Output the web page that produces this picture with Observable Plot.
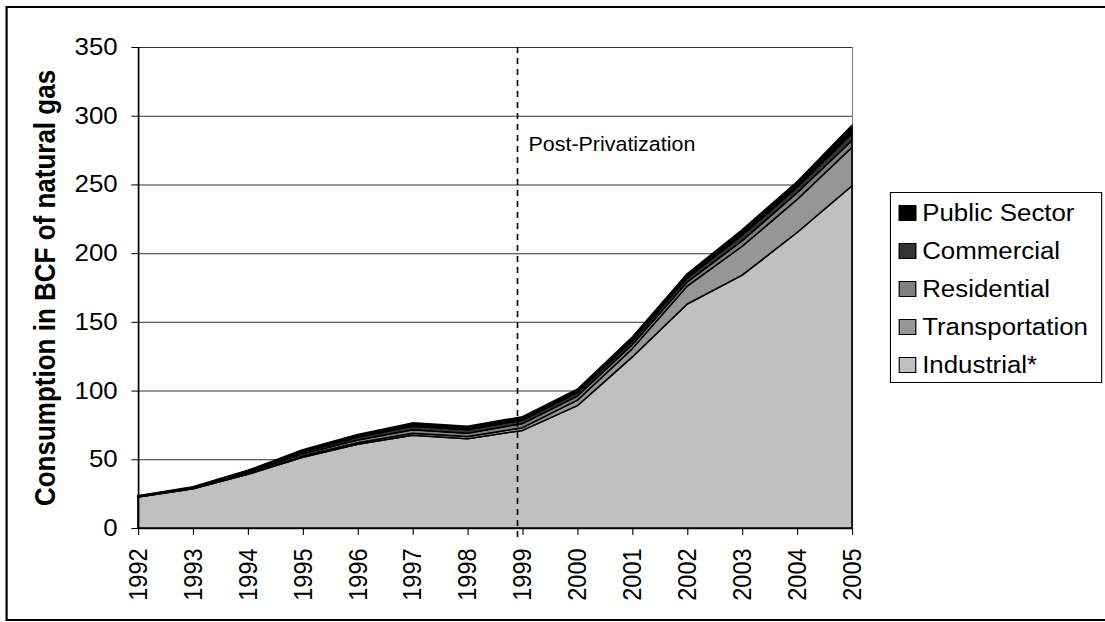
<!DOCTYPE html>
<html>
<head>
<meta charset="utf-8">
<script src="https://cdn.jsdelivr.net/npm/d3@7"></script>
<script src="https://cdn.jsdelivr.net/npm/@observablehq/plot@0.6"></script>
<style>
  html, body { margin: 0; padding: 0; background: #fff; }
  #page { position: relative; width: 1105px; height: 622px; overflow: hidden;
          font-family: Arial, "Liberation Sans", sans-serif; color: #000; }
  #stage { position: absolute; left: 0; top: 0; transform-origin: 0 0; }
  #stage svg { position: absolute; left: 0; top: 0; }
  .border { position: absolute; border: 2px solid #000; box-sizing: border-box; }
  .legend { position: absolute; border: 1px solid #000; background: #fff; box-sizing: border-box; }
  .legend .row { position: absolute; display: flex; align-items: center; white-space: nowrap; }
  .legend .sw { border: 1px solid #000; box-sizing: border-box; flex: none; }
</style>
</head>
<body>
<div id="page"><div id="stage"></div></div>
<script>
// Natural gas consumption by sector, BCF
const years          = [1992, 1993, 1994, 1995, 1996, 1997, 1998, 1999, 2000, 2001, 2002, 2003, 2004, 2005];
const industrial     = [22.5, 28.5, 39, 51.5, 61, 67.5, 65, 71, 89, 124.5, 163, 184, 215, 249];
const transportation = [0, 0, 0.5, 1, 1, 1.5, 1.5, 2, 4, 6, 13, 21, 24, 28];
const residential    = [0.5, 0.5, 1, 1.5, 2, 2.5, 2.5, 3, 3, 3, 3, 4, 5, 5];
const commercial     = [0.3, 0.5, 1, 1.5, 2, 2.5, 2.5, 2.5, 2.5, 2.5, 3, 4, 4, 5];
const publicSector   = [0.2, 0.5, 0.5, 1.5, 2, 2.5, 2.5, 2.5, 2.5, 3, 3, 4, 4, 6];

// Stack order, bottom to top
const sectors      = ["Industrial*", "Transportation", "Residential", "Commercial", "Public Sector"];
const sectorColors = ["#c0c0c0", "#969696", "#808080", "#333333", "#000000"];
const sectorValues = [industrial, transportation, residential, commercial, publicSector];

const yTicks = [0, 50, 100, 150, 200, 250, 300, 350];
const privatizationYear = 1998.9;
const annotation = "Post-Privatization";
const annotationLevel = 279;
const yLabel = "Consumption in BCF of natural gas";

const rows = [];
sectors.forEach((s, i) => years.forEach((yr, j) => rows.push({year: yr, sector: s, value: sectorValues[i][j]})));

// Layout (the stage is widened horizontally by S)
const S = 1.1;
const W = 1105 / S, H = 622;
const plotLeft = 138 / S, plotRight = 852 / S;
const fontFamily = "Arial, 'Liberation Sans', sans-serif";

const chart = Plot.plot({
  width: W,
  height: H,
  marginLeft: plotLeft,
  marginRight: W - plotRight,
  marginTop: 47,
  marginBottom: H - 528,
  style: {fontFamily, fontSize: "23.5px", color: "#000", background: "transparent", overflow: "visible"},
  x: {domain: [years[0], years[years.length - 1]]},
  y: {domain: [yTicks[0], yTicks[yTicks.length - 1]]},
  color: {domain: sectors, range: sectorColors},
  marks: [
    Plot.frame({stroke: "#808080"}),
    Plot.gridY(yTicks, {stroke: "#333", strokeOpacity: 1}),
    Plot.areaY(rows, {x: "year", y: "value", z: "sector", fill: "sector", order: sectors,
                      stroke: "#000", strokeWidth: 1.5, strokeLinejoin: "round"}),
    Plot.ruleX([years[0]], {stroke: "#000", strokeWidth: 1.5}),
    Plot.ruleY([0], {stroke: "#000", strokeWidth: 1.5}),
    Plot.axisY(yTicks, {tickSize: 6, tickPadding: 13, fontSize: 23.5, label: null, tickFormat: d => String(d)}),
    Plot.axisX(years, {tickSize: 7, tickPadding: 13, tickRotate: -90, fontSize: 23.5, label: null, tickFormat: d => String(d)}),
    Plot.ruleX([privatizationYear], {y1: -6.5, y2: yTicks[yTicks.length - 1], stroke: "#000",
                                     strokeWidth: 1.5, strokeDasharray: "6,5"}),
    Plot.text([annotation], {x: privatizationYear, y: annotationLevel, text: d => d, dx: 10,
                             textAnchor: "start", fontSize: 19.5}),
    Plot.text([yLabel], {frameAnchor: "left", dx: 45 / S - plotLeft, rotate: -90, text: d => d,
                         textAnchor: "middle", lineAnchor: "middle", fontWeight: "bold", fontSize: 26})
  ]
});

const stage = document.getElementById("stage");
stage.style.width = W + "px";
stage.style.height = H + "px";
stage.style.transform = `scaleX(${S})`;
stage.appendChild(chart);

// Outer border of the chart
const border = document.createElement("div");
border.className = "border";
Object.assign(border.style, {left: (5 / S) + "px", top: "6px", width: (W + 10) + "px", height: "615px"});
stage.appendChild(border);

// Legend, top entry first
const legend = document.createElement("div");
legend.className = "legend";
const lgLeft = 890 / S, lgTop = 192, lgW = (1102 - 890) / S, lgH = 191;
Object.assign(legend.style, {left: lgLeft + "px", top: lgTop + "px", width: lgW + "px", height: lgH + "px"});
const rowPitch = 38;
sectors.slice().reverse().forEach((s, i) => {
  const r = document.createElement("div");
  r.className = "row";
  Object.assign(r.style, {left: (8 / S) + "px", top: (20 + i * rowPitch - 19) + "px", height: "38px"});
  const sw = document.createElement("div");
  sw.className = "sw";
  Object.assign(sw.style, {width: "16px", height: "16px", background: sectorColors[sectors.indexOf(s)], marginRight: "5px"});
  const t = document.createElement("span");
  t.textContent = s;
  t.style.fontSize = "23.5px";
  r.appendChild(sw);
  r.appendChild(t);
  legend.appendChild(r);
});
stage.appendChild(legend);
</script>
</body>
</html>
